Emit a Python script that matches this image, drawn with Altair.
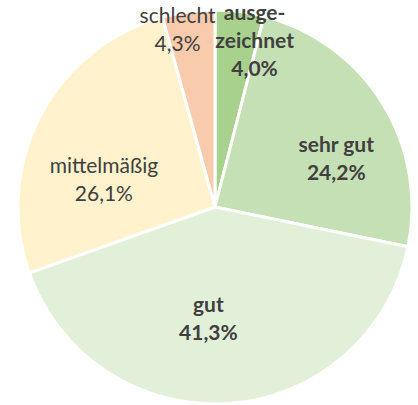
import altair as alt
import pandas as pd

categories = ["ausgezeichnet", "sehr gut", "gut", "mittelmäßig", "schlecht"]
name_labels = ["ausge-\nzeichnet", "sehr gut", "gut", "mittelmäßig", "schlecht"]
values = [4.0, 24.2, 41.3, 26.1, 4.3]
value_labels = ["4,0%", "24,2%", "41,3%", "26,1%", "4,3%"]
colors = ["#a9d18e", "#c5e0b4", "#e2f0d9", "#fff2cc", "#f8cbad"]

df = pd.DataFrame({
    "cat": categories,
    "idx": list(range(len(categories))),
    "value": values,
    "label": [n + "\n" + v for n, v in zip(name_labels, value_labels)],
})

base = alt.Chart(df).encode(
    theta=alt.Theta("value:Q", stack=True),
    order=alt.Order("idx:Q"),
)

pie = base.mark_arc(outerRadius=197, stroke="white", strokeWidth=3).encode(
    color=alt.Color("cat:N", scale=alt.Scale(domain=categories, range=colors), legend=None)
)

# per-label placement: (radius, dx, dy, weight)
placement = {
    "ausgezeichnet": (172, 18, -22, "bold"),
    "sehr gut": (130, 11, 8, "bold"),
    "gut": (107, -14, -8, "bold"),
    "mittelmäßig": (123, -2, 17, "normal"),
    "schlecht": (181, -13, -11, "normal"),
}

layers = [pie]
for cat in categories:
    r, dx, dy, w = placement[cat]
    layers.append(
        base.mark_text(
            radius=r, dx=dx, dy=dy, font="Lato", fontSize=21, fontWeight=w,
            color="#404040", lineBreak="\n", lineHeight=28, align="center", baseline="middle",
        ).encode(
            text=alt.condition(alt.datum.cat == cat, "label:N", alt.value(""))
        )
    )

chart = alt.layer(*layers).properties(
    width=406, height=396,
    padding={"left": 12, "top": 9, "right": 0, "bottom": 0},
    autosize=alt.AutoSizeParams(type="none"),
).configure_view(stroke=None)

chart.save("out.html", embed_options={"renderer": "svg", "actions": False})
